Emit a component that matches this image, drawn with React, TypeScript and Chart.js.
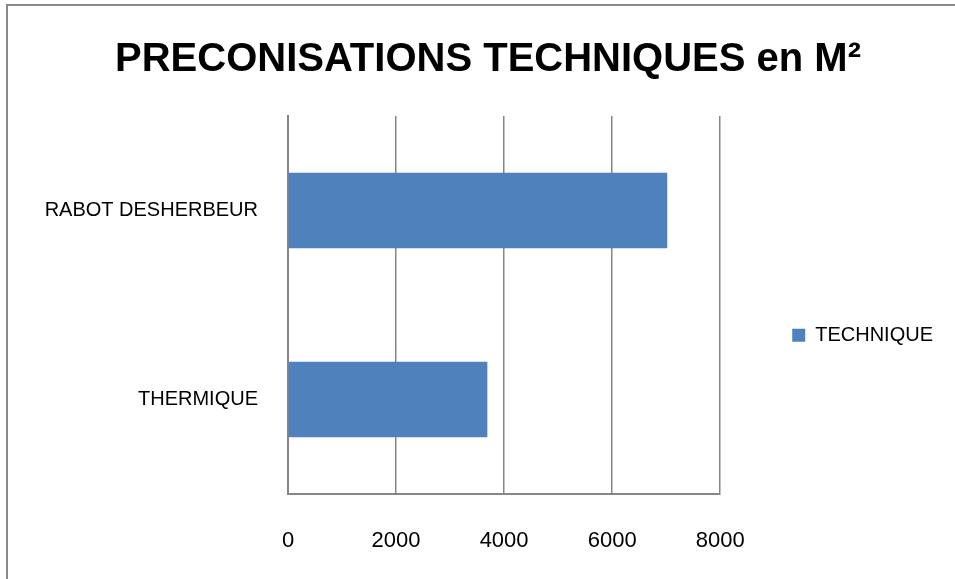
import React, { useEffect, useRef } from "react";
import { Chart, registerables } from "chart.js";

Chart.register(...registerables);

const categories = ["RABOT DESHERBEUR", "THERMIQUE"];
const seriesName = "TECHNIQUE";
const seriesValues = [7020, 3690];
const xTicks = [0, 2000, 4000, 6000, 8000];
const titleText = "PRECONISATIONS TECHNIQUES en M²";

const FONT = "'Liberation Sans', Arial, sans-serif";
const GRID = "#868686";

export default function App() {
  const ref = useRef<HTMLCanvasElement | null>(null);

  useEffect(() => {
    if (!ref.current) return;
    const padLeft = 33;
    const padRight = 12;
    const chart = new Chart(ref.current, {
      type: "bar",
      data: {
        labels: categories,
        datasets: [
          {
            label: seriesName,
            data: seriesValues,
            backgroundColor: "#4F81BD",
            borderWidth: 0,
            barPercentage: 0.4,
            categoryPercentage: 1,
          },
        ],
      },
      options: {
        indexAxis: "y",
        animation: false,
        responsive: false,
        maintainAspectRatio: false,
        layout: { padding: { left: padLeft, right: padRight, top: 0, bottom: 0 } },
        plugins: {
          title: {
            display: true,
            text: titleText,
            color: "#000",
            font: { family: FONT, size: 40, weight: "bold", lineHeight: 1.2 },
            padding: { top: 36, bottom: 32 },
          },
          legend: {
            display: true,
            position: "right",
            title: {
              display: true,
              text: " ",
              padding: 35,
              font: { family: FONT, size: 18, lineHeight: 1.2 },
            },
            labels: {
              boxWidth: 13,
              boxHeight: 13,
              padding: 72,
              color: "#000",
              font: { family: FONT, size: 20 },
            },
          },
          tooltip: { enabled: false },
        },
        scales: {
          x: {
            min: 0,
            max: 8000,
            afterBuildTicks: (axis: any) => {
              axis.ticks = xTicks.map((v) => ({ value: v }));
            },
            ticks: {
              color: "#000",
              font: { family: FONT, size: 22 },
              padding: 34,
              callback: (v: any) => String(v),
            },
            grid: { display: true, color: GRID, lineWidth: 1.5, drawTicks: false },
            border: { display: true, color: GRID, width: 2 },
            afterFit: (axis: any) => {
              axis.height = 85;
            },
          },
          y: {
            ticks: {
              color: "#000",
              font: { family: FONT, size: 20 },
              padding: 30,
            },
            grid: { display: false, drawTicks: false },
            border: { display: true, color: GRID, width: 2 },
            afterFit: (axis: any) => {
              axis.width = 288 - padLeft;
            },
          },
        },
      },
    });
    return () => chart.destroy();
  }, []);

  return (
    <div style={{ position: "absolute", left: 0, top: 0, width: 955, height: 579, background: "#fff", overflow: "hidden" }}>
      <canvas ref={ref} width={955} height={579} style={{ position: "absolute", left: 0, top: 0 }} />
      <div
        style={{
          position: "absolute",
          left: 6,
          top: 4,
          width: 1000,
          height: 1000,
          borderTop: "2px solid #8a8a8a",
          borderLeft: "2px solid #8a8a8a",
          pointerEvents: "none",
        }}
      />
    </div>
  );
}
